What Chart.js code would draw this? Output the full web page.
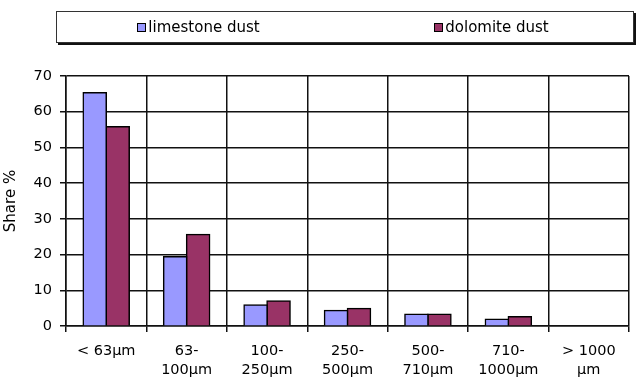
<!DOCTYPE html>
<html>
<head>
<meta charset="utf-8">
<script src="https://cdn.jsdelivr.net/npm/chart.js@4.4.0/dist/chart.umd.min.js"></script>
<style>
  html, body { margin: 0; padding: 0; background: #fff; }
  #wrap { position: relative; width: 636px; height: 389px; }
  #legend {
    position: absolute; left: 56px; top: 11px; width: 576px; height: 30px;
    border: 1px solid #333; box-shadow: 2px 2px 0 #111;
    display: flex; align-items: center;
    font-family: "DejaVu Sans", sans-serif; font-size: 15px; color: #000;
  }
  #legend .item { flex: 1; display: flex; justify-content: center; align-items: center; }
  #legend .item:last-child { padding-left: 10px; }
  #legend .box { width: 7px; height: 7px; border: 1.5px solid #000; margin-right: 2px; }
</style>
</head>
<body>
<div id="wrap">
  <canvas id="chart" width="636" height="389"></canvas>
  <div id="legend"></div>
</div>
<script>
// particle size classes
var categories = [
  ['< 63µm'], ['63-', '100µm'], ['100-', '250µm'], ['250-', '500µm'],
  ['500-', '710µm'], ['710-', '1000µm'], ['> 1000', 'µm']
];
var limestone = [65.3, 19.4, 5.9, 4.3, 3.3, 1.9, 0];
var dolomite = [55.8, 25.6, 7.0, 4.9, 3.3, 2.6, 0];
var seriesNames = ['limestone dust', 'dolomite dust'];
var seriesColors = ['#9999FF', '#993366'];
var yTicks = [0, 10, 20, 30, 40, 50, 60, 70];

var font = { family: 'DejaVu Sans', size: 14.5, lineHeight: 1.3 };

document.addEventListener('DOMContentLoaded', function() {
    var ctx = document.getElementById('chart');
    var chart = new Chart(ctx, {
        type: 'bar',
        data: {
            labels: categories,
            datasets: [{
                label: seriesNames[0],
                data: limestone,
                backgroundColor: seriesColors[0],
                borderColor: '#000',
                borderWidth: 1.5,
                inflateAmount: 0.8
            }, {
                label: seriesNames[1],
                data: dolomite,
                backgroundColor: seriesColors[1],
                borderColor: '#000',
                borderWidth: 1.5,
                inflateAmount: 0.8
            }]
        },
        options: {
            responsive: false,
            animation: false,
            layout: { padding: { top: 76, right: 7, left: 0, bottom: 0 } },
            datasets: { bar: { categoryPercentage: 0.571, barPercentage: 1 } },
            plugins: { legend: { display: false }, tooltip: { enabled: false } },
            scales: {
                x: {
                    grid: { color: '#111', lineWidth: 1.5, tickLength: 6, offset: true },
                    border: { color: '#111', width: 1.5 },
                    ticks: { color: '#000', font: font, padding: 10, maxRotation: 0, autoSkip: false },
                    afterFit: function(scale) { scale.height = 63; }
                },
                y: {
                    min: 0, max: 70,
                    grid: { color: '#111', lineWidth: 1.5, tickLength: 6 },
                    border: { color: '#111', width: 1.5 },
                    afterBuildTicks: function(scale) {
                        scale.ticks = yTicks.map(function(v) { return { value: v }; });
                    },
                    ticks: { color: '#000', font: font, padding: 8 },
                    title: {
                        display: true, text: 'Share %', color: '#000',
                        font: { family: 'DejaVu Sans', size: 15 },
                        padding: { top: 2, bottom: 0 }
                    },
                    afterFit: function(scale) { scale.width = 66; }
                }
            }
        }
    });

    // legend from the datasets
    var legend = document.getElementById('legend');
    chart.data.datasets.forEach(function(ds) {
        var item = document.createElement('div');
        item.className = 'item';
        item.innerHTML = '<span class="box" style="background:' + ds.backgroundColor + '"></span>' + ds.label;
        legend.appendChild(item);
    });
});
</script>
</body>
</html>
